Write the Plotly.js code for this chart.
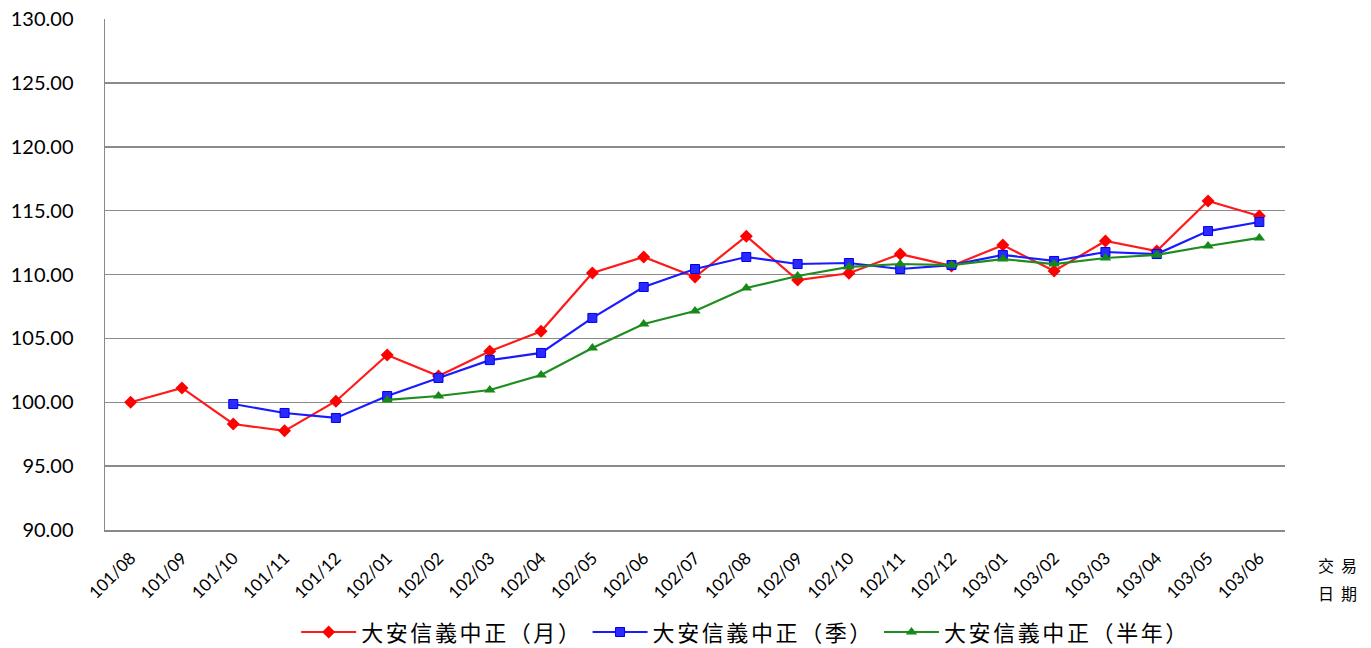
<!DOCTYPE html>
<html>
<head>
<meta charset="utf-8">
<script src="https://cdn.plot.ly/plotly-3.0.1.min.js"></script>
<style>
html,body{margin:0;padding:0;background:#fff;}
#chart{width:1371px;height:648px;}
.annotation-text{letter-spacing:7px;}
.legendtext{letter-spacing:2.6px;}
</style>
</head>
<body>
<div id="chart"></div>
<script>
const categories = ["101/08","101/09","101/10","101/11","101/12","102/01","102/02","102/03","102/04","102/05","102/06","102/07","102/08","102/09","102/10","102/11","102/12","103/01","103/02","103/03","103/04","103/05","103/06"];
const monthly = [100.00,101.12,98.30,97.76,100.08,103.70,102.05,104.00,105.55,110.12,111.37,109.80,113.00,109.57,110.10,111.60,110.67,112.30,110.27,112.62,111.84,115.75,114.58];
const quarterly = [null,null,99.86,99.16,98.77,100.49,101.90,103.30,103.86,106.60,109.02,110.43,111.37,110.82,110.90,110.43,110.74,111.53,111.06,111.76,111.60,113.40,114.11];
const halfYear = [null,null,null,null,null,100.18,100.49,100.96,102.13,104.25,106.13,107.14,108.94,109.88,110.59,110.82,110.74,111.21,110.82,111.29,111.53,112.23,112.86];
const seriesNames = ["大安信義中正（月）","大安信義中正（季）","大安信義中正（半年）"];

const traces = [
  {x: categories, y: monthly, name: seriesNames[0], type: "scatter", mode: "lines+markers",
   line: {color: "#ff1a1a", width: 2.2}, marker: {symbol: "diamond", size: 10, color: "#ff0000"}},
  {x: categories, y: quarterly, name: seriesNames[1], type: "scatter", mode: "lines+markers",
   line: {color: "#1a1aff", width: 2.2}, marker: {symbol: "square", size: 9, color: "#2a2aff", line: {color: "#0000ee", width: 1}}},
  {x: categories, y: halfYear, name: seriesNames[2], type: "scatter", mode: "lines+markers",
   line: {color: "#1e8c1e", width: 2.2}, marker: {symbol: "triangle-up", size: 10, color: "#168a16"}}
];

const layout = {
  width: 1371, height: 648,
  margin: {l: 105, r: 86, t: 19, b: 118, autoexpand: false},
  paper_bgcolor: "#fff", plot_bgcolor: "#fff",
  showlegend: true,
  font: {family: "Lato, 'Noto Sans CJK TC', sans-serif", color: "#000"},
  xaxis: {
    type: "category", range: [-0.5, 22.5], automargin: false,
    tickangle: -45, tickfont: {size: 17, family: "Lato, sans-serif"},
    showgrid: false, showline: true, linecolor: "#898989", linewidth: 1.5,
    ticks: "", zeroline: false, ticklabelstandoff: 10
  },
  yaxis: {
    range: [90, 130], dtick: 5, tick0: 90, tickformat: ".2f", automargin: false,
    tickfont: {size: 20, family: "Lato, sans-serif"},
    showgrid: true, gridcolor: "#8a8a8a", gridwidth: 1.5,
    showline: true, linecolor: "#898989", linewidth: 1.5,
    ticks: "", zeroline: false, ticklabelstandoff: 26
  },
  legend: {
    orientation: "h", x: 0.162, xanchor: "left", y: -0.2, yanchor: "middle",
    font: {size: 22, family: "'Noto Sans CJK TC', sans-serif"},
    itemwidth: 55, traceorder: "normal"
  },
  annotations: [
    {text: "交易", xref: "paper", yref: "paper", x: 1.0475, y: -0.0685, xanchor: "center", yanchor: "middle",
     showarrow: false, font: {size: 16, family: "'Noto Sans CJK TC', sans-serif"}},
    {text: "日期", xref: "paper", yref: "paper", x: 1.0475, y: -0.123, xanchor: "center", yanchor: "middle",
     showarrow: false, font: {size: 16, family: "'Noto Sans CJK TC', sans-serif"}}
  ]
};

Plotly.newPlot("chart", traces, layout, {displayModeBar: false, staticPlot: true});
</script>
</body>
</html>
